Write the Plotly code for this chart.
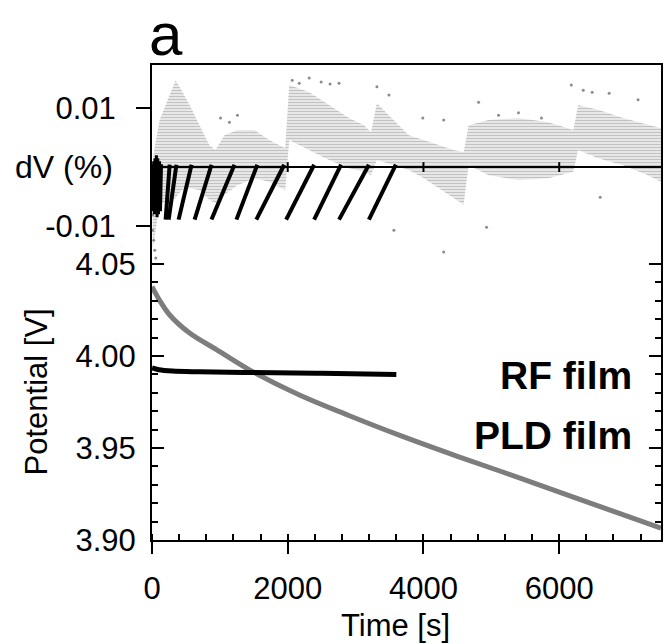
import plotly.graph_objects as go

# Potential vs time (V)
PLD_T = [0, 100, 261, 554, 950, 1435, 2173, 2900, 3642, 4500, 5507, 6500, 7500]
PLD_V = [4.0377, 4.0310, 4.0223, 4.0125, 4.0035, 3.9925, 3.9788, 3.9677, 3.9570, 3.9455, 3.9326, 3.9195, 3.9065]

RF_T = [0, 100, 300, 700, 1500, 2500, 3600]
RF_V = [3.9935, 3.9925, 3.9918, 3.9914, 3.9910, 3.9906, 3.9900]

# dV (%) band (upper / lower edge)
BAND_T = [10, 113, 260, 348, 436, 554, 700, 847, 935, 1068, 1259, 1508, 1728, 1963,
          2022, 2316, 2610, 2903, 3123, 3226, 3314, 3564, 3784, 4005, 4225, 4445, 4592,
          4665, 4959, 5400, 5840, 6207, 6280, 6574, 6941, 7308, 7500]
BAND_HI = [0.0015, 0.0080, 0.0122, 0.0147, 0.0130, 0.0105, 0.0071, 0.0037, 0.0029, 0.0054,
           0.0063, 0.0063, 0.0046, 0.0032, 0.0139, 0.0127, 0.0105, 0.0083, 0.0071, 0.0059,
           0.0108, 0.0080, 0.0054, 0.0046, 0.0037, 0.0029, 0.0025, 0.0071, 0.0080, 0.0083,
           0.0076, 0.0063, 0.0105, 0.0097, 0.0083, 0.0071, 0.0066]
BAND_LO = [-0.0140, -0.0063, -0.0056, -0.0053, -0.0039, -0.0036, -0.0039, -0.0056, -0.0061,
           -0.0047, -0.0031, -0.0019, -0.0025, -0.0039, 0.0046, 0.0029, 0.0012, -0.0002,
           -0.0008, -0.0014, 0.0012, 0.0003, -0.0005, -0.0019, -0.0036, -0.0053, -0.0064,
           0.0003, -0.0014, -0.0022, -0.0019, -0.0008, 0.0029, 0.0015, 0.0003, -0.0014, -0.0025]

# stray dV points
DOT_T = [1009, 1141, 1259, 2066, 2169, 2316, 2492, 2624, 2756, 3314, 3491, 3990, 4298,
         4812, 5106, 5400, 5738, 6178, 6354, 6486, 6736, 7162, 3564, 4929, 6604, 4298,
         10, 25, 40, 55, 10]
DOT_DV = [0.0083, 0.0076, 0.0088, 0.0147, 0.0142, 0.0151, 0.0144, 0.0141, 0.0142, 0.0136,
          0.0122, 0.0083, 0.0080, 0.0110, 0.0088, 0.0092, 0.0083, 0.0139, 0.0130, 0.0127,
          0.0125, 0.0114, -0.0107, -0.0102, -0.0051, -0.0144, -0.0107, -0.0124, -0.0141,
          -0.0154, -0.0081]

# RF film dV sawtooth: each stroke from (start, low) to (end, high)
SLASH_START = [201, 245, 392, 628, 877, 1244, 1537, 1977, 2389, 2756, 3196]
SLASH_END = [260, 360, 583, 877, 1215, 1552, 1948, 2389, 2786, 3196, 3593]
SLASH_LOW = -0.0089
SLASH_HIGH = 0.0004

BLOB_T = [5, 15, 25, 35, 45, 55, 65, 75, 85, 95, 110, 125, 140]
BLOB_DV = [0.0005, -0.0075, 0.0010, -0.0080, 0.0015, -0.0070, 0.0020, -0.0085, 0.0015,
           -0.0080, 0.0010, -0.0075, 0.0005]

ZERO_T = [0, 7500]
ZERO_TICKS = [2000, 4000, 6000]

X_TICKS = [0, 2000, 4000, 6000]
V_TICKS = [3.90, 3.95, 4.00, 4.05]
V_MINOR = [3.91, 3.92, 3.93, 3.94, 3.96, 3.97, 3.98, 3.99, 4.01, 4.02, 4.03, 4.04]
DV_TICKS = [-0.01, 0.01]

FONT = "Liberation Sans, Arial, sans-serif"
GREY = "#7d7d7d"

fig = go.Figure()

# potential curves
fig.add_trace(go.Scatter(x=PLD_T, y=PLD_V, mode="lines", line=dict(color=GREY, width=5, shape="spline"),
                         showlegend=False, hoverinfo="skip"))
fig.add_trace(go.Scatter(x=RF_T, y=RF_V, mode="lines", line=dict(color="black", width=5, shape="spline"),
                         showlegend=False, hoverinfo="skip"))

# dV band (striped fill)
fig.add_trace(go.Scatter(x=BAND_T, y=BAND_LO, mode="lines", line=dict(width=0, color=GREY),
                         yaxis="y2", showlegend=False, hoverinfo="skip"))
fig.add_trace(go.Scatter(x=BAND_T, y=BAND_HI, mode="lines", line=dict(width=0, color=GREY),
                         fill="tonexty", fillcolor="rgba(255,255,255,0)",
                         fillpattern=dict(shape="-", fgcolor="#858585", bgcolor="rgba(255,255,255,0)",
                                          size=3, solidity=0.6),
                         yaxis="y2", showlegend=False, hoverinfo="skip"))
fig.add_trace(go.Scatter(x=DOT_T, y=DOT_DV, mode="markers", marker=dict(color="#8c8c8c", size=3),
                         yaxis="y2", showlegend=False, hoverinfo="skip"))

# zero line with small ticks
fig.add_trace(go.Scatter(x=ZERO_T, y=[0, 0], mode="lines", line=dict(color="black", width=2),
                         yaxis="y2", showlegend=False, hoverinfo="skip"))
fig.add_trace(go.Scatter(x=ZERO_TICKS, y=[0] * len(ZERO_TICKS), mode="markers",
                         marker=dict(symbol="line-ns", size=7, line=dict(color="black", width=2)),
                         yaxis="y2", showlegend=False, hoverinfo="skip"))

# RF sawtooth strokes
sx, sy = [], []
for a, b in zip(SLASH_START, SLASH_END):
    sx += [a, b, None]
    sy += [SLASH_LOW, SLASH_HIGH, None]
fig.add_trace(go.Scatter(x=sx, y=sy, mode="lines", line=dict(color="black", width=4),
                         yaxis="y2", showlegend=False, hoverinfo="skip"))
fig.add_trace(go.Scatter(x=BLOB_T, y=BLOB_DV, mode="lines", line=dict(color="black", width=3),
                         yaxis="y2", showlegend=False, hoverinfo="skip"))

axis_common = dict(showgrid=False, zeroline=False, linecolor="black", tickcolor="black",
                   tickfont=dict(family=FONT, size=31, color="black"))

fig.update_layout(
    width=665, height=644,
    margin=dict(l=152, r=2, t=65, b=104),
    plot_bgcolor="white", paper_bgcolor="white",
    font=dict(family=FONT, size=31, color="black"),
    xaxis=dict(range=[0, 7500], tickvals=X_TICKS, ticks="outside", ticklen=12, tickwidth=2,
               showline=True, linewidth=2, mirror=True, ticklabelstandoff=8,
               minor=dict(ticks="inside", dtick=400, tick0=0, ticklen=6, tickwidth=1.5, tickcolor="black"),
               **axis_common),
    yaxis=dict(range=[3.90, 4.1582], tickvals=V_TICKS, ticktext=["3.90", "3.95", "4.00", "4.05"],
               ticks="inside", ticklen=12, tickwidth=2, showline=True, linewidth=2, mirror="ticks",
               ticklabelstandoff=8,
               minor=dict(ticks="inside", tickvals=V_MINOR, ticklen=6, tickwidth=1.5, tickcolor="black"),
               **axis_common),
    yaxis2=dict(range=[-0.0632, 0.0173], overlaying="y", side="left", tickvals=DV_TICKS,
                ticktext=["-0.01", "0.01"], ticks="outside", ticklen=15, tickwidth=2,
                showline=False, ticklabelstandoff=14, **axis_common),
    annotations=[
        dict(text="a", x=0.0274, y=1.1368, xref="paper", yref="paper", showarrow=False,
             font=dict(family=FONT, size=60), xanchor="center", yanchor="top", borderpad=0),
        dict(text="dV (%)", x=-0.0724, y=0.785, xref="paper", yref="paper", showarrow=False,
             font=dict(family=FONT, size=32), xanchor="right", yanchor="middle"),
        dict(text="Potential [V]", x=-0.225, y=0.3116, xref="paper", yref="paper", showarrow=False,
             textangle=-90, font=dict(family=FONT, size=31), xanchor="center", yanchor="middle"),
        dict(text="Time [s]", x=0.4775, y=-0.179, xref="paper", yref="paper", showarrow=False,
             font=dict(family=FONT, size=31), xanchor="center", yanchor="middle"),
        dict(text="<b>RF film</b>", x=0.947, y=0.347, xref="paper", yref="paper", showarrow=False,
             font=dict(family=FONT, size=39), xanchor="right", yanchor="middle"),
        dict(text="<b>PLD film</b>", x=0.947, y=0.221, xref="paper", yref="paper", showarrow=False,
             font=dict(family=FONT, size=39), xanchor="right", yanchor="middle"),
    ],
)

# drop the default page margin so the figure fills the 665x644 window exactly
fig.write_html("out.html", config={"displayModeBar": False},
               post_script="document.body.style.margin='0';document.body.style.overflow='hidden';")
